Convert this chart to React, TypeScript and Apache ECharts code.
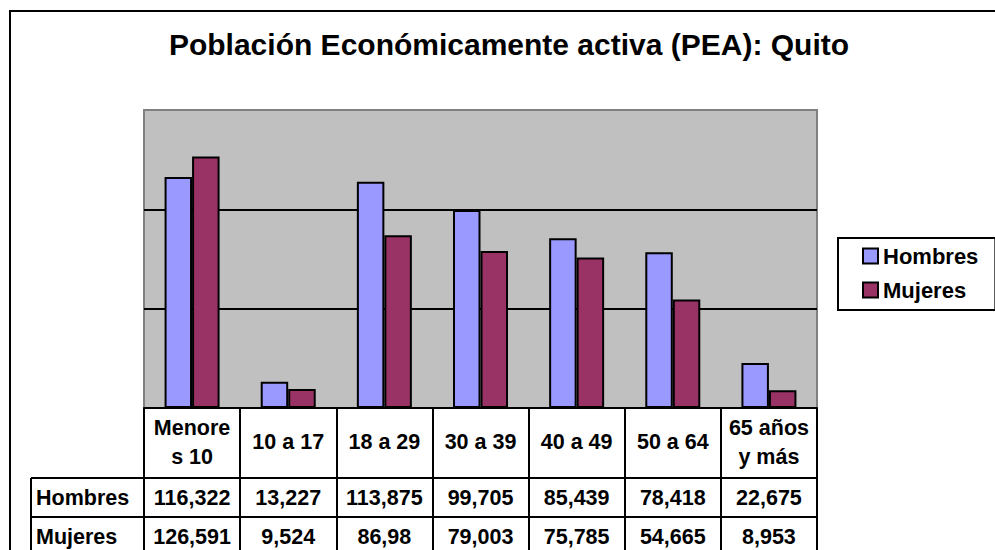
import React, { useEffect, useRef } from "react";
import * as echarts from "echarts";

const categories = ["Menore\ns 10", "10 a 17", "18 a 29", "30 a 39", "40 a 49", "50 a 64", "65 años\ny más"];
const seriesNames = ["Hombres", "Mujeres"];
const hombres = [116322, 13227, 113875, 99705, 85439, 78418, 22675];
const mujeres = [126591, 9524, 86980, 79003, 75785, 54665, 8953];
const hombresLabels = ["116,322", "13,227", "113,875", "99,705", "85,439", "78,418", "22,675"];
const mujeresLabels = ["126,591", "9,524", "86,98", "79,003", "75,785", "54,665", "8,953"];
const title = "Población Económicamente activa (PEA): Quito";

const FONT = "'Liberation Sans', Arial, sans-serif";

export default function App() {
  const ref = useRef<HTMLDivElement>(null);
  useEffect(() => {
    if (!ref.current) return;
    const chart = echarts.init(ref.current, null, { renderer: "svg" });
    const gridLeft = 144;
    const gridTop = 110;
    const gridW = 673;
    const gridH = 298;
    const tableText = { fontFamily: FONT, fontSize: 21.5, fontWeight: "bold" as const, color: "#000" };
    const rowAxis = (data: string[], margin: number) => ({
      type: "category" as const,
      data,
      position: "bottom" as const,
      gridIndex: 0,
      axisLine: { show: false },
      axisTick: { show: false },
      splitLine: { show: false },
      axisLabel: { ...tableText, interval: 0, margin, verticalAlign: "middle" as const },
    });
    chart.setOption({
      animation: false,
      backgroundColor: "#ffffff",
      grid: {
        left: gridLeft,
        top: gridTop,
        width: gridW,
        height: gridH,
        show: true,
        backgroundColor: "#c0c0c0",
        borderColor: "#808080",
        borderWidth: 2,
      },
      legend: {
        data: seriesNames,
        orient: "vertical",
        left: 838,
        top: 238,
        padding: [7, 17, 9, 24],
        itemGap: 12,
        itemWidth: 15,
        itemHeight: 15,
        icon: "rect",
        borderColor: "#000",
        borderWidth: 2,
        textStyle: { fontFamily: FONT, fontSize: 22, fontWeight: "bold", color: "#000" },
      },
      xAxis: [
        {
          type: "category",
          data: categories,
          position: "bottom",
          axisLine: { lineStyle: { color: "#000", width: 2 } },
          axisTick: { show: true, length: 144, lineStyle: { color: "#000", width: 2 } },
          splitLine: { show: false },
          axisLabel: { ...tableText, interval: 0, margin: 34, lineHeight: 29, verticalAlign: "middle" },
        },
        rowAxis(hombresLabels, 90),
        rowAxis(mujeresLabels, 129),
      ],
      yAxis: {
        type: "value",
        min: 0,
        max: 150000,
        interval: 50000,
        axisLine: { show: false },
        axisTick: { show: false },
        axisLabel: { show: false },
        splitLine: { lineStyle: { color: ["#000", "#000", "#000", "#808080"], width: 2 } },
      },
      series: [
        {
          name: seriesNames[0],
          type: "bar",
          data: hombres,
          barWidth: 27.5,
          barGap: "0%",
          itemStyle: { color: "#9999ff", borderColor: "#000", borderWidth: 2 },
        },
        {
          name: seriesNames[1],
          type: "bar",
          data: mujeres,
          barWidth: 27.5,
          barGap: "0%",
          itemStyle: { color: "#993366", borderColor: "#000", borderWidth: 2 },
        },
      ],
      graphic: [
        {
          type: "rect",
          silent: true,
          shape: { x: 10, y: 11, width: 1000, height: 600 },
          style: { fill: "none", stroke: "#000", lineWidth: 2 },
          z: 100,
        },
        {
          type: "text",
          x: 509,
          y: 44,
          style: {
            text: title,
            fontFamily: FONT,
            fontSize: 30,
            fontWeight: "bold",
            fill: "#000",
            textAlign: "center",
            textVerticalAlign: "middle",
          },
        },
        {
          type: "line",
          shape: { x1: 31, y1: 478, x2: gridLeft + gridW, y2: 478 },
          style: { stroke: "#000", lineWidth: 2 },
        },
        {
          type: "line",
          shape: { x1: 31, y1: 517, x2: gridLeft + gridW, y2: 517 },
          style: { stroke: "#000", lineWidth: 2 },
        },
        {
          type: "line",
          shape: { x1: 31, y1: 478, x2: 31, y2: 560 },
          style: { stroke: "#000", lineWidth: 2 },
        },
        {
          type: "text",
          x: 36,
          y: 498,
          style: { text: seriesNames[0], fontFamily: FONT, fontSize: 21.5, fontWeight: "bold", fill: "#000", textVerticalAlign: "middle" },
        },
        {
          type: "text",
          x: 36,
          y: 537,
          style: { text: seriesNames[1], fontFamily: FONT, fontSize: 21.5, fontWeight: "bold", fill: "#000", textVerticalAlign: "middle" },
        },
      ],
    });
    return () => chart.dispose();
  }, []);
  return <div ref={ref} style={{ position: "absolute", left: 0, top: 0, width: 995, height: 550 }} />;
}
